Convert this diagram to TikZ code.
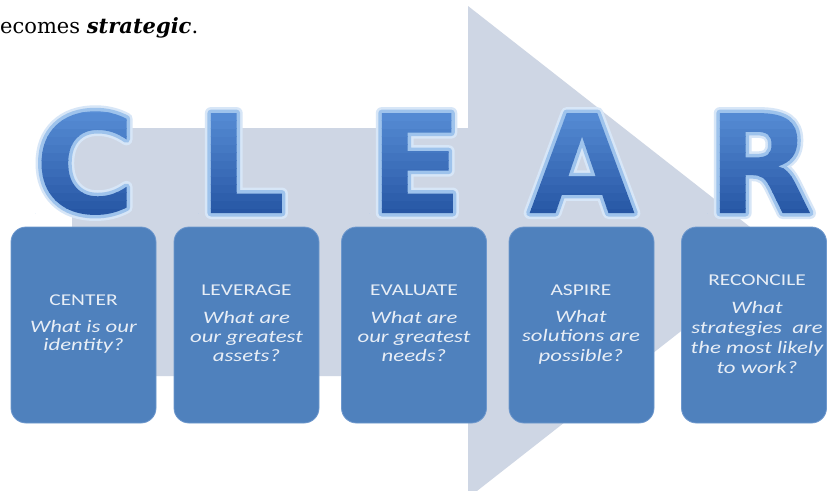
\documentclass[tikz,border=0pt]{standalone}
\usepackage{fontspec}
\newfontfamily\boxfont[FakeStretch=1.3]{Carlito}
\newfontfamily\letterfont{DejaVu Sans}
\newfontfamily\topfont{DejaVu Serif}
\definecolor{arrowfill}{RGB}{206,214,228}
\definecolor{boxfill}{RGB}{79,129,189}
\definecolor{boxedge}{RGB}{110,152,205}
\definecolor{boxtext}{RGB}{232,238,246}
\definecolor{lettop}{RGB}{88,142,214}
\definecolor{letbot}{RGB}{38,86,164}
\newsavebox\lettbox
% one letter: soft halo + light rim (stroked glyphs), then the glyph used as
% a clip for horizontal colour bands (vertical gradient)
\newcommand\glowletter[1]{%
  \sbox\lettbox{#1}%
  \special{pdf:literal direct 1 Tr 1 j 12 w 0.843 0.902 0.969 RG}\rlap{#1}%
  \special{pdf:literal direct 7 w 0.620 0.765 0.925 RG}\rlap{#1}%
  \rlap{\rule{0.01pt}{0.01pt}}%
  \special{pdf:literal direct 7 Tr}\rlap{#1}%
  \rlap{\rule{0.01pt}{0.01pt}}%
  \special{pdf:literal direct 0 Tr 0.4 w}%
  \rlap{\hspace*{-3pt}\foreach \k in {0,...,13}{%
    \pgfmathtruncatemacro\bm{100-100*\k/13}%
    \pgfmathsetmacro\br{-4+\k*8}%
    \rlap{\color{letbot!\bm!lettop}\rule[\br pt]{\dimexpr\wd\lettbox+6pt\relax}{8.6pt}}}}%
  \hphantom{#1}}
\tikzset{
  cardbox/.style={draw=boxedge, line width=0.8pt, fill=boxfill, rounded corners=15pt,
    minimum width=145pt, minimum height=196pt, inner sep=0pt},
  cardtitle/.style={anchor=base, inner sep=0pt, text=boxtext,
    font=\boxfont\fontsize{16.5}{18}\selectfont},
  cardquest/.style={anchor=base, inner sep=0pt, text=boxtext,
    font=\boxfont\itshape\fontsize{17.5}{19}\selectfont},
  bigletter/.style={anchor=base, inner sep=0pt, text=letbot,
    font=\letterfont\bfseries\fontsize{137}{137}\selectfont},
}
\begin{document}
\begin{tikzpicture}[x=1pt,y=-1pt]
\path[use as bounding box] (0,0) rectangle (832,490);
\clip (0,0) rectangle (832,490);
\fill[white] (0,0) rectangle (832,490);

% big background arrow
\fill[arrowfill] (72,128) -- (468,128) -- (468,6) -- (782,252) -- (468,498)
  -- (468,376) -- (72,376) -- cycle;

% top text
\node[anchor=base west, inner sep=0pt, font=\topfont\fontsize{21}{25}\selectfont]
  (toptext) at (0,33) {ecomes \textbf{\textit{strategic}}.};

% big letters
\node[bigletter] (letC) at (85,213) {\glowletter{C}};
\node[bigletter] (letL) at (242,213) {\glowletter{L}};
\node[bigletter] (letE) at (416,213) {\glowletter{E}};
\node[bigletter] (letA) at (582,213) {\glowletter{A}};
\node[bigletter] (letR) at (760,213) {\glowletter{R}};

% boxes
\node[cardbox] (box1) at (83.5,325) {};
\node[cardbox] (box2) at (246.5,325) {};
\node[cardbox] (box3) at (414,325) {};
\node[cardbox] (box4) at (581.5,325) {};
\node[cardbox] (box5) at (754,325) {};

% box texts
\node[cardtitle] (t1) at (83.5,305) {CENTER};
\node[cardquest] (q1a) at (83.5,332) {What is our};
\node[cardquest] (q1b) at (83.5,350) {identity?};

\node[cardtitle] (t2) at (246.5,295) {LEVERAGE};
\node[cardquest] (q2a) at (246.5,323) {What are};
\node[cardquest] (q2b) at (246.5,342) {our greatest};
\node[cardquest] (q2c) at (246.5,361) {assets?};

\node[cardtitle] (t3) at (414,295) {EVALUATE};
\node[cardquest] (q3a) at (414,323) {What are};
\node[cardquest] (q3b) at (414,342) {our greatest};
\node[cardquest] (q3c) at (414,361) {needs?};

\node[cardtitle] (t4) at (581,295) {ASPIRE};
\node[cardquest] (q4a) at (581,322) {What};
\node[cardquest] (q4b) at (581,341) {solutions are};
\node[cardquest] (q4c) at (581,361) {possible?};

\node[cardtitle] (t5) at (757,285) {RECONCILE};
\node[cardquest] (q5a) at (757,313) {What};
\node[cardquest] (q5b) at (757,333) {strategies\ \ are};
\node[cardquest] (q5c) at (757,353) {the most likely};
\node[cardquest] (q5d) at (757,373) {to work?};
\end{tikzpicture}
\end{document}
